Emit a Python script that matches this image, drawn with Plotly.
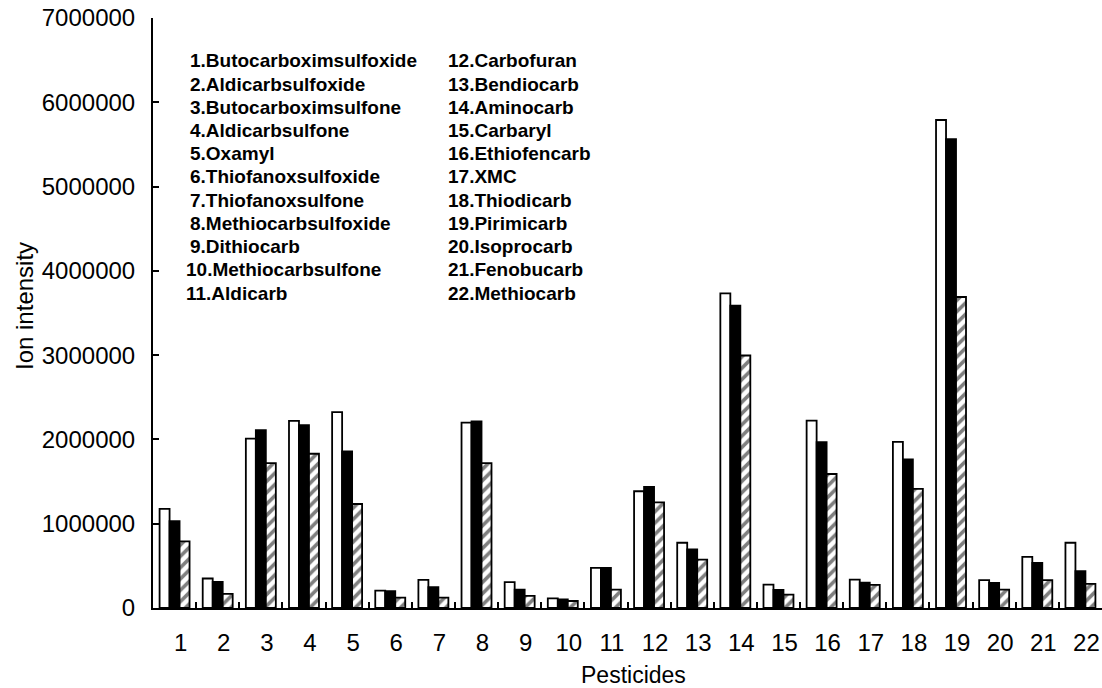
import plotly.graph_objects as go

categories = [str(i) for i in range(1, 23)]

series_a = [1175000, 350000, 2010000, 2220000, 2325000, 206000, 333000, 2200000, 306000, 115000,
            476000, 1385000, 774000, 3734000, 278000, 2222000, 337000, 1972000, 5790000, 330000,
            607000, 774000]
series_b = [1030000, 310000, 2110000, 2170000, 1857000, 200000, 246000, 2214000, 218000, 103000,
            476000, 1437000, 694000, 3587000, 214000, 1968000, 302000, 1762000, 5563000, 298000,
            536000, 437000]
series_c = [790000, 167000, 1720000, 1830000, 1234000, 123000, 123000, 1720000, 143000, 83000,
            218000, 1254000, 575000, 2996000, 159000, 1590000, 274000, 1413000, 3690000, 218000,
            330000, 286000]

names_left = ["1.Butocarboximsulfoxide", "2.Aldicarbsulfoxide", "3.Butocarboximsulfone",
              "4.Aldicarbsulfone", "5.Oxamyl", "6.Thiofanoxsulfoxide", "7.Thiofanoxsulfone",
              "8.Methiocarbsulfoxide", "9.Dithiocarb", "10.Methiocarbsulfone", "11.Aldicarb"]
names_right = ["12.Carbofuran", "13.Bendiocarb", "14.Aminocarb", "15.Carbaryl",
               "16.Ethiofencarb", "17.XMC", "18.Thiodicarb", "19.Pirimicarb", "20.Isoprocarb",
               "21.Fenobucarb", "22.Methiocarb"]

y_ticks = [0, 1000000, 2000000, 3000000, 4000000, 5000000, 6000000, 7000000]

W, H = 1102, 688
ML, MR, MT, MB = 153, 0, 18, 80
PW, PH = W - ML - MR, H - MT - MB

FONT = "Liberation Sans, Arial, sans-serif"

fig = go.Figure()
line = dict(color="black", width=1.8)
fig.add_trace(go.Bar(x=categories, y=series_a, marker=dict(color="white", line=line), showlegend=False))
fig.add_trace(go.Bar(x=categories, y=series_b, marker=dict(color="black", line=line), showlegend=False))
fig.add_trace(go.Bar(x=categories, y=series_c,
                     marker=dict(color="white", line=line,
                                 pattern=dict(shape="/", fgcolor="black", bgcolor="white",
                                              size=8, solidity=0.45)),
                     showlegend=False))

def px_x(p):
    return (p - ML) / PW

def px_y(p):
    return (H - MB - p) / PH

annotations = []
for i, t in enumerate(names_left):
    xpix = 184 if i >= 9 else 188
    annotations.append(dict(x=px_x(xpix), y=px_y(61 + i * 23.2), xref="paper", yref="paper",
                            text=t, showarrow=False, xanchor="left", yanchor="middle",
                            font=dict(family=FONT, size=19, color="black", weight="bold")))
for i, t in enumerate(names_right):
    annotations.append(dict(x=px_x(446), y=px_y(61 + i * 23.2), xref="paper", yref="paper",
                            text=t, showarrow=False, xanchor="left", yanchor="middle",
                            font=dict(family=FONT, size=19, color="black", weight="bold")))

annotations.append(dict(x=px_x(24), y=px_y(306), xref="paper", yref="paper", text="Ion intensity",
                        showarrow=False, textangle=-90, xanchor="center", yanchor="middle",
                        font=dict(family=FONT, size=24, color="black")))
annotations.append(dict(x=px_x(633), y=px_y(675), xref="paper", yref="paper", text="Pesticides",
                        showarrow=False, xanchor="center", yanchor="middle",
                        font=dict(family=FONT, size=23, color="black")))

fig.update_layout(
    width=W, height=H,
    margin=dict(l=ML, r=MR, t=MT, b=MB, pad=0),
    paper_bgcolor="white", plot_bgcolor="white",
    barmode="group", bargap=0.305, bargroupgap=0,
    font=dict(family=FONT, size=24, color="black"),
    annotations=annotations,
    xaxis=dict(type="category", showline=True, linecolor="black", linewidth=2,
               ticks="inside", tickson="boundaries", ticklen=6, tickwidth=2, tickcolor="black",
               showgrid=False, zeroline=False, ticklabelshift=6, ticklabelstandoff=12,
               tickfont=dict(family=FONT, size=24, color="black")),
    yaxis=dict(range=[0, 7000000], tickvals=y_ticks, ticktext=[str(v) for v in y_ticks],
               showline=True, linecolor="black", linewidth=2,
               ticks="inside", ticklen=6, tickwidth=2, tickcolor="black",
               showgrid=False, zeroline=False, ticklabelstandoff=11,
               tickfont=dict(family=FONT, size=24, color="black")),
)

fig.write_html("out.html")
